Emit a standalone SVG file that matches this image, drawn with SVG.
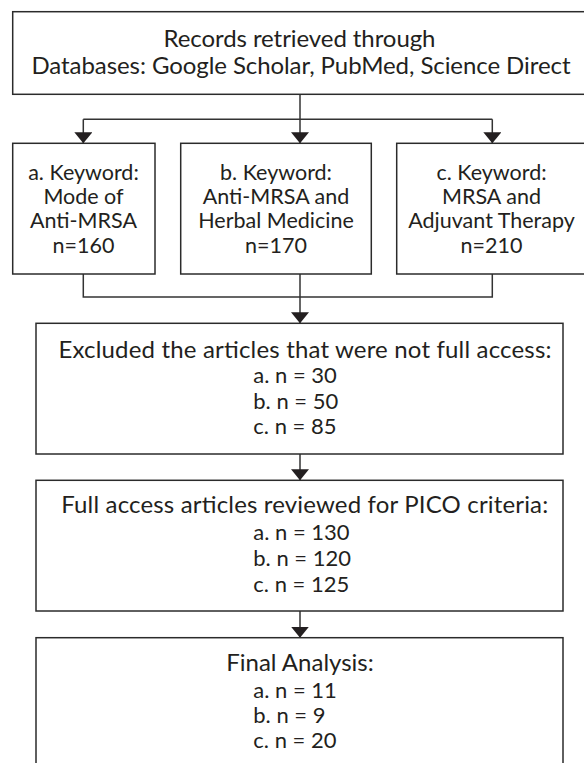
<svg xmlns="http://www.w3.org/2000/svg" width="584" height="763" viewBox="0 0 584 763">
<defs>
<style>
.box{fill:#fff;stroke:#2b2b2b;stroke-width:1.5}
.con{fill:none;stroke:#333;stroke-width:1.5}
text{font-family:Lato,"Liberation Sans",sans-serif;font-size:22px;fill:#231f20}
.c{text-anchor:middle}
.h{font-size:24px}
.k{font-size:21.5px}
</style>
<marker id="arr" markerUnits="userSpaceOnUse" markerWidth="11" markerHeight="18" viewBox="0 0 11 18" refX="11" refY="9" orient="auto">
<path d="M0,0 L11,9 L0,18 z" fill="#231f20"/>
</marker>
</defs>
<rect width="584" height="763" fill="#fff"/>
<g id="connectors">
<path class="con" d="M300,94.3 V119.3"/>
<path class="con" d="M83.3,119.3 H492.3"/>
<path class="con" d="M83.3,119.3 V143.3" marker-end="url(#arr)"/>
<path class="con" d="M300,119.3 V143.3" marker-end="url(#arr)"/>
<path class="con" d="M492.3,119.3 V143.3" marker-end="url(#arr)"/>
<path class="con" d="M83.3,274 V297 H492.3 V274"/>
<path class="con" d="M300,274 V297"/>
<path class="con" d="M300,297 V323.3" marker-end="url(#arr)"/>
<path class="con" d="M300,454 V480.3" marker-end="url(#arr)"/>
<path class="con" d="M300,611 V637.7" marker-end="url(#arr)"/>
</g>
<g id="records">
<rect class="box" x="12.7" y="11.7" width="576" height="82.6"/>
<text class="c h" x="299.5" y="46.5" textLength="272">Records retrieved through</text>
<text class="c h" x="301" y="73.5" textLength="539">Databases: Google Scholar, PubMed, Science Direct</text>
</g>
<g id="keyword-a">
<rect class="box" x="12.7" y="143.3" width="142.3" height="130.7"/>
<text class="c k" x="83.5" y="180">a. Keyword:</text>
<text class="c k" x="83.5" y="204.2">Mode of</text>
<text class="c k" x="83.5" y="228.4">Anti-MRSA</text>
<text class="c k" x="83.5" y="252.5">n=160</text>
</g>
<g id="keyword-b">
<rect class="box" x="180.7" y="143.3" width="190.6" height="130.7"/>
<text class="c k" x="276" y="180">b. Keyword:</text>
<text class="c k" x="276" y="204.2">Anti-MRSA and</text>
<text class="c k" x="276" y="228.4">Herbal Medicine</text>
<text class="c k" x="276" y="252.5">n=170</text>
</g>
<g id="keyword-c">
<rect class="box" x="396.7" y="143.3" width="190" height="130.7"/>
<text class="c k" x="491.5" y="180">c. Keyword:</text>
<text class="c k" x="491.5" y="204.2">MRSA and</text>
<text class="c k" x="491.5" y="228.4">Adjuvant Therapy</text>
<text class="c k" x="491.5" y="252.5">n=210</text>
</g>
<g id="excluded">
<rect class="box" x="36" y="323.3" width="527" height="130.7"/>
<text class="c h" x="305" y="358.3" textLength="493">Excluded the articles that were not full access:</text>
<text x="253.3" y="383.3">a. n = 30</text>
<text x="253.3" y="409">b. n = 50</text>
<text x="253.3" y="434.3">c. n = 85</text>
</g>
<g id="full-access">
<rect class="box" x="36" y="480.3" width="527" height="130.7"/>
<text class="c h" x="304.7" y="513.3" textLength="487">Full access articles reviewed for PICO criteria:</text>
<text x="253.3" y="540">a. n = 130</text>
<text x="253.3" y="565.7">b. n = 120</text>
<text x="253.3" y="591.7">c. n = 125</text>
</g>
<g id="final">
<rect class="box" x="36" y="637.7" width="527" height="140"/>
<text class="c h" x="300" y="671">Final Analysis:</text>
<text x="253.3" y="698.3">a. n = 11</text>
<text x="253.3" y="722.7">b. n = 9</text>
<text x="253.3" y="748.3">c. n = 20</text>
</g>
</svg>
